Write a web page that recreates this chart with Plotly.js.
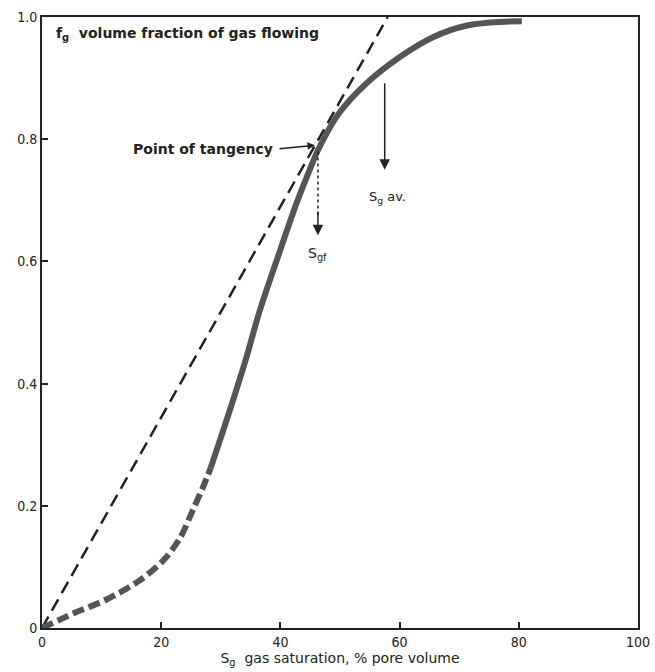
<!DOCTYPE html>
<html><head><meta charset="utf-8">
<script src="https://cdn.plot.ly/plotly-3.0.1.min.js"></script>
<style>html,body{margin:0;padding:0;background:#fff}#chart{width:655px;height:672px}</style>
</head><body><div id="chart"></div>
<script>
// Low-saturation (dashed) part of the fractional-flow curve
const dashedX = [0, 5.3, 10.9, 16.4, 20.3, 23.2, 25.4, 27.0, 28.3];
const dashedY = [0, 0.024, 0.047, 0.078, 0.11, 0.148, 0.195, 0.23, 0.262];
// Main (solid) fractional-flow curve
const solidX = [28.3, 31.5, 34.3, 36.4, 39.6, 42.7, 45.0, 46.4, 49.8, 54.5, 60.1, 65.6, 71.3, 76.8, 80.5];
const solidY = [0.262, 0.356, 0.443, 0.515, 0.608, 0.695, 0.752, 0.784, 0.842, 0.892, 0.935, 0.967, 0.986, 0.992, 0.993];
// Tangent line from origin
const tangentX = [0, 58];
const tangentY = [0, 1.0];
// Arrow positions
const sgfX = 46.3, sgfTop = 0.78, sgfTip = 0.643;
const sgavX = 57.5, sgavTop = 0.894, sgavTip = 0.75;
const tangencyX = 45.8, tangencyY = 0.79;
// Ticks
const xTickVals = [0, 20, 40, 60, 80, 100];
const xTickText = ['0', '20', '40', '60', '80', '100'];
const yTickVals = [0, 0.2, 0.4, 0.6, 0.8, 1.0];
const yTickText = ['0', '0.2', '0.4', '0.6', '0.8', '1.0'];

const FONT = 'DejaVu Sans Condensed, Liberation Sans Narrow, sans-serif';
const FONT2 = 'DejaVu Sans, Liberation Sans, sans-serif';
const INK = '#222';

const traces = [
  {x: tangentX, y: tangentY, mode: 'lines', line: {color: INK, width: 2.5, dash: '13px,7px'}, hoverinfo: 'skip'},
  {x: dashedX, y: dashedY, mode: 'lines', line: {color: '#555', width: 6, dash: '12px,5px', shape: 'spline', smoothing: 0.9}, hoverinfo: 'skip'},
  {x: solidX, y: solidY, mode: 'lines', line: {color: '#555', width: 6, shape: 'spline', smoothing: 0.9}, hoverinfo: 'skip'},
  {x: [sgfX, sgfX], y: [sgfTop, sgfTip + 0.03], mode: 'lines', line: {color: INK, width: 1.5, dash: 'dot'}, hoverinfo: 'skip'}
];

const layout = {
  width: 655, height: 672,
  margin: {l: 42, r: 17, t: 17, b: 44},
  paper_bgcolor: '#fff', plot_bgcolor: '#fff',
  showlegend: false,
  font: {family: FONT, color: INK, size: 13},
  xaxis: {
    range: [0, 100], tickvals: xTickVals, ticktext: xTickText,
    ticks: 'inside', ticklen: 6, tickwidth: 2, tickcolor: INK,
    showgrid: false, zeroline: false, showline: true, mirror: true,
    linecolor: INK, linewidth: 2,
    tickfont: {family: FONT, size: 14, color: INK},
    title: {text: 'S<sub>g</sub>  gas saturation, % pore volume', font: {family: FONT2, size: 14, color: INK}, standoff: 4}
  },
  yaxis: {
    range: [0, 1.0], tickvals: yTickVals, ticktext: yTickText,
    ticks: 'inside', ticklen: 6, tickwidth: 2, tickcolor: INK,
    showgrid: false, zeroline: false, showline: true, mirror: true,
    linecolor: INK, linewidth: 2,
    tickfont: {family: FONT, size: 14, color: INK}
  },
  annotations: [
    {x: 2, y: 0.99, xref: 'x', yref: 'y', xanchor: 'left', yanchor: 'top', showarrow: false,
     text: '<b>f<sub>g</sub>  volume fraction of gas flowing</b>', font: {family: FONT2, size: 14, color: INK}},
    {x: tangencyX, y: tangencyY, xref: 'x', yref: 'y', ax: 39.6, ay: 0.784, axref: 'x', ayref: 'y',
     showarrow: true, arrowhead: 2, arrowsize: 1, arrowwidth: 1.5, arrowcolor: INK, text: ''},
    {x: 39.1, y: 0.784, xref: 'x', yref: 'y', xanchor: 'right', yanchor: 'middle', showarrow: false,
     text: '<b>Point of tangency</b>', font: {family: FONT2, size: 14, color: INK}},
    {x: sgfX, y: sgfTip, xref: 'x', yref: 'y', ax: sgfX, ay: sgfTip + 0.04, axref: 'x', ayref: 'y',
     showarrow: true, arrowhead: 2, arrowsize: 1.4, arrowwidth: 1.5, arrowcolor: INK, text: ''},
    {x: sgavX, y: sgavTip, xref: 'x', yref: 'y', ax: sgavX, ay: sgavTop, axref: 'x', ayref: 'y',
     showarrow: true, arrowhead: 2, arrowsize: 1.4, arrowwidth: 1.5, arrowcolor: INK, text: ''},
    {x: 44.3, y: 0.612, xref: 'x', yref: 'y', xanchor: 'left', yanchor: 'middle', showarrow: false,
     text: 'S<sub>gf</sub>', font: {family: FONT2, size: 14, color: INK}},
    {x: 54.5, y: 0.705, xref: 'x', yref: 'y', xanchor: 'left', yanchor: 'middle', showarrow: false,
     text: 'S<sub>g</sub> av.', font: {family: FONT2, size: 13, color: INK}}
  ]
};

Plotly.newPlot('chart', traces, layout, {displayModeBar: false, staticPlot: true});
</script></body></html>
